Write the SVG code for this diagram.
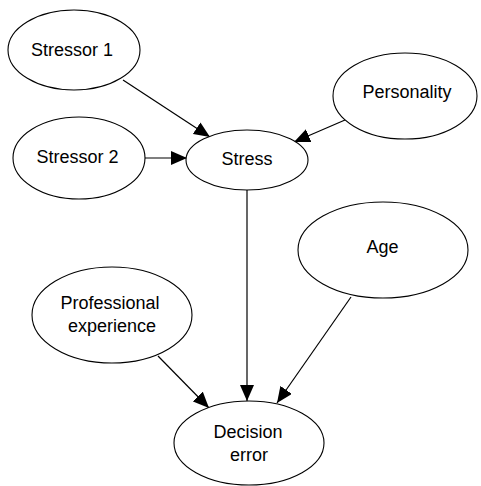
<svg xmlns="http://www.w3.org/2000/svg" width="481" height="486" viewBox="0 0 481 486">
<style>
.node ellipse{fill:#fff;stroke:#000;stroke-width:1.1}
.node text{font-family:"Liberation Sans",Arial,sans-serif;font-size:18px;fill:#000;text-anchor:middle}
.edge{stroke:#000;stroke-width:1.2;fill:none;marker-end:url(#arr)}
</style>
<defs>
<marker id="arr" markerUnits="userSpaceOnUse" markerWidth="16" markerHeight="14" refX="16" refY="7" orient="auto">
<path d="M0,0 L16,7 L0,14 Z" fill="#000"/>
</marker>
</defs>
<rect width="481" height="486" fill="#fff"/>
<g id="connectors">
<line class="edge" x1="123" y1="80" x2="210" y2="137"/>
<line class="edge" x1="145" y1="158" x2="187" y2="158"/>
<line class="edge" x1="345" y1="120" x2="294" y2="142"/>
<line class="edge" x1="247" y1="190" x2="247" y2="401"/>
<line class="edge" x1="158" y1="356" x2="209" y2="408"/>
<line class="edge" x1="351" y1="297" x2="277" y2="403"/>
</g>
<g id="stressor1" class="node"><ellipse cx="74" cy="50" rx="66" ry="40"/><text x="72" y="56">Stressor 1</text></g>
<g id="stressor2" class="node"><ellipse cx="79" cy="158" rx="66" ry="41"/><text x="77.5" y="163">Stressor 2</text></g>
<g id="personality" class="node"><ellipse cx="405" cy="96" rx="72" ry="43"/><text x="407" y="98">Personality</text></g>
<g id="stress" class="node"><ellipse cx="247" cy="160" rx="61" ry="30"/><text x="247" y="165">Stress</text></g>
<g id="age" class="node"><ellipse cx="383" cy="250" rx="85" ry="48"/><text x="382.5" y="253">Age</text></g>
<g id="professional" class="node"><ellipse cx="112" cy="315" rx="80" ry="48"/><text x="110" y="309">Professional</text><text x="112" y="332">experience</text></g>
<g id="decision" class="node"><ellipse cx="249" cy="443" rx="75" ry="42"/><text x="248" y="438">Decision</text><text x="249" y="461">error</text></g>
</svg>
